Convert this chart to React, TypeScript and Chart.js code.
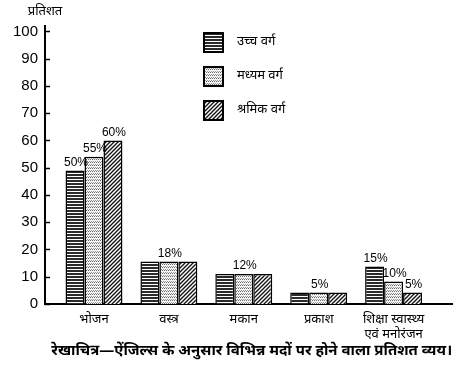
import React, { useEffect, useRef } from 'react';
import { Chart, registerables } from 'chart.js';

Chart.register(...registerables);

const categories: (string | string[])[] = ['भोजन', 'वस्त्र', 'मकान', 'प्रकाश', ['शिक्षा स्वास्थ्य', 'एवं मनोरंजन']];
const seriesNames = ['उच्च वर्ग', 'मध्यम वर्ग', 'श्रमिक वर्ग'];
const upperClass = [49, 15.6, 11, 4.2, 13.8];
const middleClass = [54, 15.6, 11, 4.2, 8.3];
const workingClass = [60, 15.6, 11, 4.2, 4.2];
const upperLabels = ['50%', '', '', '', '15%'];
const middleLabels = ['55%', '18%', '12%', '5%', '10%'];
const workingLabels = ['60%', '', '', '', '5%'];
const yTicks = [0, 10, 20, 30, 40, 50, 60, 70, 80, 90, 100];
const yAxisTitle = 'प्रतिशत';
const chartTitle = 'रेखाचित्र—ऐंजिल्स के अनुसार विभिन्न मदों पर होने वाला प्रतिशत व्यय।';

const DEV = '"Noto Sans Devanagari", "Lohit Devanagari", "Noto Sans", FreeSans, sans-serif';
const NUM = '"Liberation Sans", Arial, sans-serif';

function makePattern(kind: number): CanvasPattern | string {
  const c = document.createElement('canvas');
  const ctx = c.getContext('2d')!;
  if (kind === 0) {
    c.width = 6; c.height = 3;
    ctx.fillStyle = '#ffffff';
    ctx.fillRect(0, 0, 6, 3);
    ctx.fillStyle = '#2a2a2a';
    ctx.fillRect(0, 0, 6, 2);
  } else if (kind === 1) {
    c.width = 4; c.height = 3;
    ctx.fillStyle = '#f4f4f4';
    ctx.fillRect(0, 0, 4, 3);
    ctx.fillStyle = '#6a6a6a';
    ctx.fillRect(0, 0, 1, 1);
    ctx.fillRect(2, 0, 1, 1);
    ctx.fillStyle = '#9a9a9a';
    ctx.fillRect(1, 2, 1, 1);
    ctx.fillRect(3, 2, 1, 1);
  } else {
    c.width = 4; c.height = 4;
    ctx.fillStyle = '#ffffff';
    ctx.fillRect(0, 0, 4, 4);
    ctx.strokeStyle = '#111111';
    ctx.lineWidth = 1.3;
    for (let o = -4; o <= 4; o += 4) {
      ctx.beginPath();
      ctx.moveTo(o - 1, 5);
      ctx.lineTo(o + 5, -1);
      ctx.stroke();
    }
  }
  const p = ctx.createPattern(c, 'repeat');
  return p || '#888';
}

export default function App() {
  const ref = useRef<HTMLCanvasElement>(null);
  useEffect(() => {
    const canvas = ref.current!;
    const patterns = [makePattern(0), makePattern(1), makePattern(2)];
    const values = [upperClass, middleClass, workingClass];
    const labels = [upperLabels, middleLabels, workingLabels];

    const decorPlugin = {
      id: 'decor',
      afterDraw(chart: any) {
        const ctx = chart.ctx as CanvasRenderingContext2D;
        const area = chart.chartArea;
        const y = chart.scales.y;
        ctx.save();
        // y axis title
        ctx.fillStyle = '#000';
        ctx.font = `13px ${DEV}`;
        ctx.textAlign = 'center';
        ctx.textBaseline = 'middle';
        ctx.fillText(yAxisTitle, area.left, 13);
        // inward ticks
        ctx.strokeStyle = '#000';
        ctx.lineWidth = 1.5;
        yTicks.forEach((t) => {
          const py = Math.round(y.getPixelForValue(t)) + 0.5;
          ctx.beginPath();
          ctx.moveTo(area.left, py);
          ctx.lineTo(area.left + 5, py);
          ctx.stroke();
        });
        // value labels
        ctx.font = `12px ${NUM}`;
        ctx.textAlign = 'center';
        ctx.textBaseline = 'bottom';
        labels.forEach((arr, di) => {
          const meta = chart.getDatasetMeta(di);
          meta.data.forEach((bar: any, i: number) => {
            if (arr[i]) ctx.fillText(arr[i], bar.x + 1, bar.y - 2);
          });
        });
        // legend
        const lx = area.left + 158;
        const ly0 = area.top + 6;
        seriesNames.forEach((name, i) => {
          const ly = ly0 + i * 34;
          ctx.fillStyle = patterns[i] as any;
          ctx.fillRect(lx, ly, 21, 21);
          ctx.lineWidth = 2;
          ctx.strokeStyle = '#000';
          ctx.strokeRect(lx + 1, ly + 1, 19, 19);
          ctx.fillStyle = '#000';
          ctx.font = `13px ${DEV}`;
          ctx.textAlign = 'left';
          ctx.textBaseline = 'middle';
          ctx.fillText(name, lx + 34, ly + 11);
        });
        ctx.restore();
      },
    };

    const chart = new Chart(canvas, {
      type: 'bar',
      data: {
        datasets: values.map((vals, di) => ({
          label: seriesNames[di],
          data: vals.map((v, i) => ({ x: i, y: v })),
          backgroundColor: patterns[di] as any,
          borderColor: '#000',
          borderWidth: 1.5,
          borderSkipped: 'start' as const,
          categoryPercentage: 0.76,
          barPercentage: 1,
        })),
      },
      options: {
        responsive: false,
        animation: false,
        layout: { padding: { top: 26, right: 13, left: 0, bottom: 0 } },
        plugins: {
          legend: { display: false },
          tooltip: { enabled: false },
          title: {
            display: true,
            position: 'bottom',
            align: 'end',
            text: chartTitle,
            color: '#000',
            font: { family: DEV, size: 15, weight: 'bold', lineHeight: 1.2 },
            padding: { top: 0, bottom: 8 },
          },
        },
        scales: {
          x: {
            type: 'linear',
            offset: false,
            bounds: 'ticks',
            min: -0.654,
            max: 4.78,
            grid: { display: false, drawTicks: false, offset: false },
            border: { display: true, color: '#000', width: 2 },
            afterBuildTicks: (scale: any) => {
              scale.ticks = categories.map((_, i) => ({ value: i }));
            },
            afterFit: (scale: any) => {
              scale.height = 39;
            },
            ticks: {
              color: '#000',
              font: { family: DEV, size: 13, lineHeight: 1.15 },
              padding: 9,
              maxRotation: 0,
              autoSkip: false,
              callback: (v: any) => categories[Math.round(Number(v))] as any,
            },
          },
          y: {
            min: 0,
            max: 102,
            grid: { display: false, drawTicks: false },
            border: { display: true, color: '#000', width: 2 },
            afterBuildTicks: (scale: any) => {
              scale.ticks = yTicks.map((v) => ({ value: v }));
            },
            afterFit: (scale: any) => {
              scale.width = 45;
            },
            ticks: {
              color: '#000',
              font: { family: NUM, size: 15 },
              padding: 7,
            },
          },
        },
      },
      plugins: [decorPlugin],
    } as any);
    return () => chart.destroy();
  }, []);

  return (
    <div style={{ position: 'absolute', left: 0, top: 0, width: 465, height: 369, background: '#fff' }}>
      <canvas ref={ref} width={465} height={369} style={{ display: 'block' }} />
    </div>
  );
}
